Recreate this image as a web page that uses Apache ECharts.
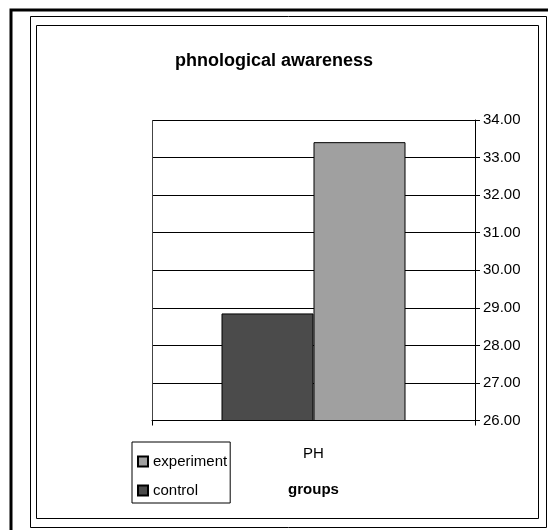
<!DOCTYPE html>
<html>
<head>
<meta charset="utf-8">
<script src="https://cdn.jsdelivr.net/npm/echarts@6/dist/echarts.min.js"></script>
<style>html,body{margin:0;padding:0;background:#fff;}#c{width:548px;height:530px;}</style>
</head>
<body>
<div id="c"></div>
<script>
const categories = ['PH'];
const controlValues = [28.85];
const experimentValues = [33.41];
const seriesNames = ['control', 'experiment'];
const legendOrder = ['experiment', 'control'];
const yMin = 26, yMax = 34, yStep = 1;
const titleText = 'phnological awareness';
const xAxisTitle = 'groups';

const chart = echarts.init(document.getElementById('c'), null, {renderer: 'canvas'});
const font = '"Liberation Sans", Arial, sans-serif';
chart.setOption({
  animation: false,
  backgroundColor: '#fff',
  title: {
    text: titleText, left: 'center', top: 47,
    textStyle: {fontFamily: font, fontSize: 18, fontWeight: 'bold', color: '#000'}
  },
  graphic: [
    {type: 'rect', shape: {x: 11, y: 10, width: 600, height: 600}, style: {fill: 'none', stroke: '#000', lineWidth: 3}, silent: true},
    {type: 'rect', shape: {x: 30.5, y: 16.5, width: 516, height: 511}, style: {fill: 'none', stroke: '#000', lineWidth: 1}, silent: true},
    {type: 'rect', shape: {x: 36.5, y: 25.5, width: 502, height: 493}, style: {fill: 'none', stroke: '#000', lineWidth: 1}, silent: true}
  ],
  legend: {
    data: legendOrder, orient: 'vertical', left: 132, top: 442,
    borderColor: '#000', borderWidth: 1, padding: [12, 3, 5, 5], itemGap: 14,
    itemWidth: 10, itemHeight: 10, icon: 'rect',
    textStyle: {fontFamily: font, fontSize: 15, color: '#000'}
  },
  grid: {left: 152, right: 73, top: 120, bottom: 109.5},
  xAxis: {
    type: 'category', data: categories, boundaryGap: true,
    axisLine: {lineStyle: {color: '#000', width: 1}},
    axisTick: {show: true, length: 5, lineStyle: {color: '#000'}},
    splitLine: {show: true, lineStyle: {color: '#444', width: 1}},
    axisLabel: {fontFamily: font, fontSize: 15, color: '#000', margin: 26},
    name: xAxisTitle, nameLocation: 'middle', nameGap: 62,
    nameTextStyle: {fontFamily: font, fontSize: 15, fontWeight: 'bold', color: '#000'}
  },
  yAxis: {
    type: 'value', position: 'right', min: yMin, max: yMax, interval: yStep,
    axisLine: {show: true, lineStyle: {color: '#000', width: 1}},
    axisTick: {show: true, length: 5, lineStyle: {color: '#000'}},
    splitLine: {show: true, lineStyle: {color: '#000', width: 1}},
    axisLabel: {fontFamily: font, fontSize: 15, color: '#000', margin: 8,
      formatter: v => v.toFixed(2)}
  },
  series: [
    {name: seriesNames[0], type: 'bar', data: controlValues, barWidth: 92, barGap: '0%',
     itemStyle: {color: '#4b4b4b', borderColor: '#000', borderWidth: 1}},
    {name: seriesNames[1], type: 'bar', data: experimentValues, barWidth: 92, barGap: '0%',
     itemStyle: {color: '#a0a0a0', borderColor: '#000', borderWidth: 1}}
  ]
});
</script>
</body>
</html>
